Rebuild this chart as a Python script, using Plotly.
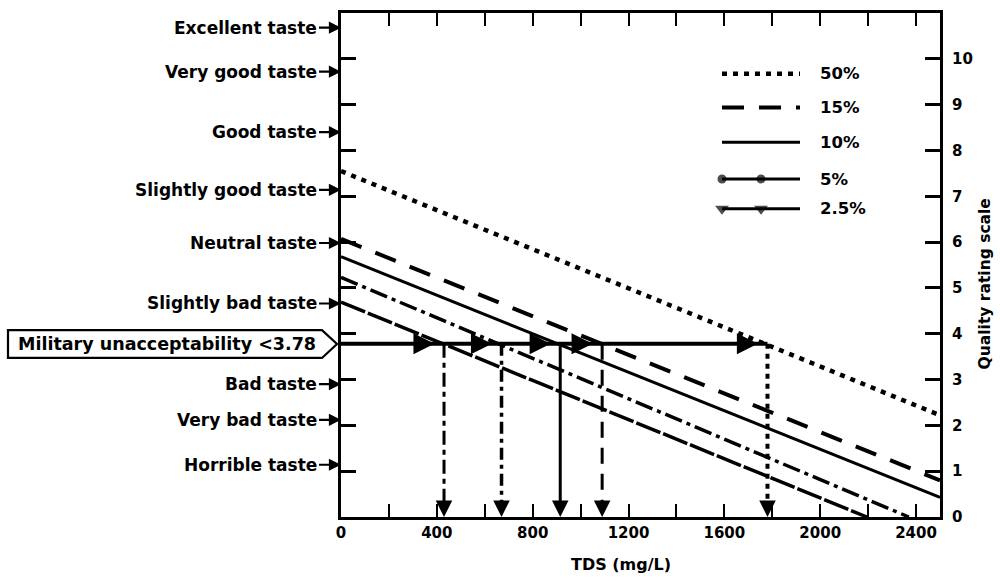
import plotly.graph_objects as go

# ---------------- data ----------------
tds_50 = [0, 2500]
q_50 = [7.55, 2.22]
tds_15 = [0, 2500]
q_15 = [6.07, 0.80]
tds_10 = [0, 2500]
q_10 = [5.68, 0.43]
tds_5 = [0, 2370]
q_5 = [5.23, 0.0]
tds_25 = [0, 2195]
q_25 = [4.69, 0.0]

series_names = ["50%", "15%", "10%", "5%", "2.5%"]

military_limit = 3.78
crossing_tds = [430, 670, 915, 1090, 1780]          # 2.5%, 5%, 10%, 15%, 50%

taste_labels = ["Excellent taste", "Very good taste", "Good taste", "Slightly good taste",
                "Neutral taste", "Slightly bad taste", "Bad taste", "Very bad taste",
                "Horrible taste"]
taste_levels = [10.68, 9.72, 8.40, 7.14, 5.98, 4.66, 2.90, 2.12, 1.14]

x_tickvals = [0, 200, 400, 600, 800, 1000, 1200, 1400, 1600, 1800, 2000, 2200, 2400]
x_ticktext = ["0", "", "400", "", "800", "", "1200", "", "1600", "", "2000", "", "2400"]
y_tickvals = [0, 1, 2, 3, 4, 5, 6, 7, 8, 9, 10]
y_ticktext = ["0", "1", "2", "3", "4", "5", "6", "7", "8", "9", "10"]

# ---------------- layout geometry ----------------
W, H = 1000, 585
ML, MR, MT, MB = 341, 60, 10, 68
PW, PH = W - ML - MR, H - MT - MB
FONT = "DejaVu Sans"
BLACK = "#000000"


def px_x(px):
    return (px - ML) / PW


def px_y(py):
    return (H - MB - py) / PH


def bold(size):
    return dict(family=FONT, size=size, color=BLACK, weight="bold")


fig = go.Figure()

series_data = [(tds_50, q_50), (tds_15, q_15), (tds_10, q_10), (tds_5, q_5), (tds_25, q_25)]
series_style = [
    dict(width=4.5, dash="5px,6px"),
    dict(width=4, dash="22px,15px"),
    dict(width=3, dash="solid"),
    dict(width=3.5, dash="18px,5px,4px,5px"),
    dict(width=3.5, dash="26px,3px"),
]

for name, (xs, ys), st in zip(series_names, series_data, series_style):
    fig.add_trace(go.Scatter(x=xs, y=ys, mode="lines", name=name, showlegend=False,
                             line=dict(color=BLACK, **st), hoverinfo="skip"))

# horizontal military limit line
fig.add_trace(go.Scatter(x=[0, max(crossing_tds)], y=[military_limit, military_limit],
                         mode="lines", showlegend=False, hoverinfo="skip",
                         line=dict(color=BLACK, width=4)))

# vertical drop lines
drop_style = [
    dict(width=3, dash="14px,5px,5px,5px"),
    dict(width=3.5, dash="12px,5px,4px,5px"),
    dict(width=3, dash="solid"),
    dict(width=3, dash="16px,10px"),
    dict(width=4, dash="5px,5px"),
]
for c, st in zip(crossing_tds, drop_style):
    fig.add_trace(go.Scatter(x=[c, c], y=[military_limit, 0.3], mode="lines",
                             showlegend=False, hoverinfo="skip",
                             line=dict(color=BLACK, **st)))

annotations = []
# arrowheads on the horizontal line (pointing right) and at the bottom (pointing down)
for c in crossing_tds:
    annotations.append(dict(x=c - 40, y=military_limit, xref="x", yref="y", text="",
                            showarrow=True, ax=-14, ay=0, arrowhead=2, arrowsize=1.4,
                            arrowwidth=3, arrowcolor=BLACK))
    annotations.append(dict(x=c, y=0, xref="x", yref="y", text="",
                            showarrow=True, ax=0, ay=-16, arrowhead=2, arrowsize=1.1,
                            arrowwidth=3, arrowcolor=BLACK))

# left taste labels with arrows
for lab, lv in zip(taste_labels, taste_levels):
    annotations.append(dict(x=0, y=lv, xref="x", yref="y", text=lab, showarrow=True,
                            ax=-22, ay=0, xanchor="right", yanchor="middle",
                            arrowhead=2, arrowsize=1.1,
                            arrowwidth=2.2, arrowcolor=BLACK, font=bold(17)))

# military unacceptability box
bx0, bx1, btip = px_x(8), px_x(322), px_x(337)
ytop = px_y(343 - 14)
ybot = px_y(343 + 14)
ymid = px_y(343)
shapes = [dict(type="path", xref="paper", yref="paper",
               path=f"M {bx0},{ytop} L {bx1},{ytop} L {btip},{ymid} L {bx1},{ybot} L {bx0},{ybot} Z",
               line=dict(color=BLACK, width=2.2), fillcolor="white", layer="above")]
annotations.append(dict(x=(bx0 + bx1) / 2 + 0.003, y=ymid, xref="paper", yref="paper",
                        xanchor="center", yanchor="middle",
                        text="Military unacceptability &lt;3.78", showarrow=False,
                        font=bold(17.5)))

# ---------------- manual legend ----------------
leg_x0, leg_x1, leg_tx = px_x(722), px_x(800), px_x(818)
leg_rows = [px_y(71), px_y(105), px_y(140), px_y(177), px_y(207)]
leg_style = [
    dict(width=4.5, dash="5px,6px"),
    dict(width=4, dash="22px,15px"),
    dict(width=3, dash="solid"),
    dict(width=3, dash="solid"),
    dict(width=3, dash="solid"),
]
leg_marker = [None, None, None, "circle", "triangle-down"]
leg_msize = [0, 0, 0, 9, 12]
for name, yy, st, mk, ms in zip(series_names, leg_rows, leg_style, leg_marker, leg_msize):
    if mk is None:
        fig.add_trace(go.Scatter(x=[leg_x0, leg_x1], y=[yy, yy], xaxis="x2", yaxis="y2",
                                 mode="lines", showlegend=False, hoverinfo="skip",
                                 line=dict(color=BLACK, **st)))
    else:
        fig.add_trace(go.Scatter(x=[leg_x0, (leg_x0 + leg_x1) / 2, leg_x1], y=[yy, yy, yy],
                                 xaxis="x2", yaxis="y2", mode="lines+markers",
                                 showlegend=False, hoverinfo="skip",
                                 marker=dict(symbol=mk, size=[ms, ms, 0], color=BLACK,
                                             line=dict(width=0)),
                                 line=dict(color=BLACK, **st)))
    annotations.append(dict(x=leg_tx, y=yy, xref="paper", yref="paper", text=name,
                            showarrow=False, xanchor="left", yanchor="middle",
                            font=bold(16.5)))

# axis titles as annotations (to place them as in the original)
annotations.append(dict(x=px_x(621), y=px_y(565), xref="paper", yref="paper",
                        text="TDS (mg/L)", showarrow=False, xanchor="center",
                        yanchor="middle", font=bold(16)))
annotations.append(dict(x=px_x(985), y=px_y(283), xref="paper", yref="paper",
                        text="Quality rating scale", showarrow=False, textangle=-90,
                        xanchor="center", yanchor="middle", font=bold(15.5)))

tickfont = bold(15)
fig.update_layout(
    width=W, height=H,
    margin=dict(l=ML, r=MR, t=MT, b=MB, pad=0),
    plot_bgcolor="white", paper_bgcolor="white",
    showlegend=False,
    xaxis=dict(range=[0, 2500], tickvals=x_tickvals, ticktext=x_ticktext,
               ticks="inside", ticklen=13, tickwidth=2, tickcolor=BLACK,
               showline=True, linewidth=3, linecolor=BLACK, mirror="ticks",
               showgrid=False, zeroline=False, tickfont=tickfont),
    yaxis=dict(range=[0, 11], side="right", tickvals=y_tickvals, ticktext=y_ticktext,
               ticks="inside", ticklen=15, tickwidth=2.5, tickcolor=BLACK,
               showline=True, linewidth=3, linecolor=BLACK, mirror="ticks",
               showgrid=False, zeroline=False, tickfont=tickfont, ticklabelstandoff=6),
    xaxis2=dict(range=[0, 1], overlaying="x", visible=False, anchor="y2"),
    yaxis2=dict(range=[0, 1], overlaying="y", visible=False, anchor="x2"),
    annotations=annotations,
    shapes=shapes,
)

fig.write_html("out.html")
